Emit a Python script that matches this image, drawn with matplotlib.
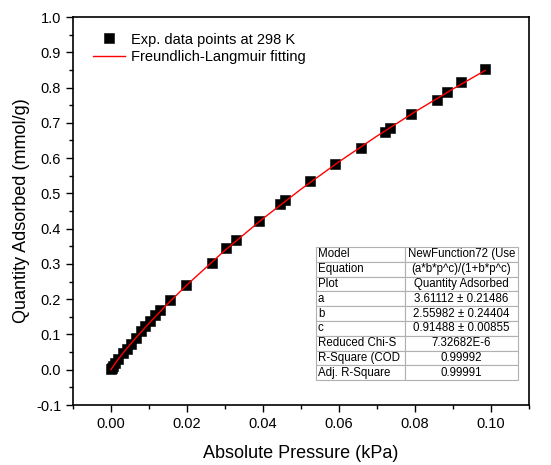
import matplotlib
matplotlib.use("Agg")
import matplotlib.pyplot as plt
from matplotlib.ticker import MultipleLocator, FormatStrFormatter

plt.rcParams['font.family'] = ['Liberation Sans', 'DejaVu Sans']

p_exp = [0.0001, 0.0002, 0.0005, 0.0010, 0.0019, 0.0032, 0.0043, 0.0053, 0.0066,
         0.0080, 0.0090, 0.0102, 0.0117, 0.0128, 0.0155, 0.0197, 0.0265, 0.0303,
         0.0330, 0.0390, 0.0446, 0.0457, 0.0523, 0.0590, 0.0657, 0.0722, 0.0735,
         0.0790, 0.0858, 0.0885, 0.0920, 0.0985]
q_exp = [0.002, 0.005, 0.010, 0.018, 0.030, 0.047, 0.060, 0.073, 0.090,
         0.111, 0.125, 0.138, 0.155, 0.168, 0.198, 0.240, 0.303, 0.344,
         0.369, 0.423, 0.470, 0.481, 0.534, 0.582, 0.629, 0.675, 0.686,
         0.726, 0.766, 0.787, 0.815, 0.852]

# Fitting curve
p_fit = [0.0, 0.0001, 0.0002, 0.0005, 0.001, 0.002, 0.004, 0.006, 0.010, 0.015,
         0.020, 0.030, 0.040, 0.050, 0.060, 0.070, 0.080, 0.090, 0.0985]
q_fit = [0.0, 0.0020, 0.0038, 0.0088, 0.0166, 0.0311, 0.0582, 0.0837, 0.1318, 0.1879,
         0.2407, 0.3387, 0.4286, 0.5119, 0.5897, 0.6625, 0.7312, 0.7961, 0.8487]

table_rows = [
    ["Model", "NewFunction72 (Use"],
    ["Equation", "(a*b*p^c)/(1+b*p^c)"],
    ["Plot", "Quantity Adsorbed"],
    ["a", "3.61112 \u00b1 0.21486"],
    ["b", "2.55982 \u00b1 0.24404"],
    ["c", "0.91488 \u00b1 0.00855"],
    ["Reduced Chi-S", "7.32682E-6"],
    ["R-Square (COD", "0.99992"],
    ["Adj. R-Square", "0.99991"],
]

fig = plt.figure(figsize=(5.51, 4.65), dpi=100)
ax = fig.add_axes([0.1325, 0.129, 0.8275, 0.8344])

ax.plot(p_exp, q_exp, linestyle='none', marker='s', markersize=7.0, markeredgewidth=0.4,
        color='black', label='Exp. data points at 298 K', zorder=2)
ax.plot(p_fit, q_fit, color='red', linewidth=1.0, label='Freundlich-Langmuir fitting', zorder=3)

ax.set_xlim(-0.01, 0.11)
ax.set_ylim(-0.1, 1.0)
ax.xaxis.set_major_locator(MultipleLocator(0.02))
ax.xaxis.set_minor_locator(MultipleLocator(0.01))
ax.yaxis.set_major_locator(MultipleLocator(0.1))
ax.yaxis.set_minor_locator(MultipleLocator(0.05))
ax.xaxis.set_major_formatter(FormatStrFormatter('%.2f'))
ax.yaxis.set_major_formatter(FormatStrFormatter('%.1f'))
ax.tick_params(which='major', direction='out', length=5, width=1, labelsize=10.5)
ax.tick_params(which='minor', direction='out', length=3, width=1)
for s in ax.spines.values():
    s.set_linewidth(1.2)

ax.set_xlabel('Absolute Pressure (kPa)', fontsize=13, labelpad=10)
ax.set_ylabel('Quantity Adsorbed (mmol/g)', fontsize=13, labelpad=4)

leg = ax.legend(loc='upper left', bbox_to_anchor=(0.005, 1.005), frameon=False,
                fontsize=10.5, handlelength=2.2, handletextpad=0.45,
                borderaxespad=0.8, labelspacing=0.25)

tbl = ax.table(cellText=table_rows, cellLoc='center',
               bbox=[0.533, 0.064, 0.443, 0.343], colWidths=[0.44, 0.56])
tbl.auto_set_font_size(False)
tbl.set_fontsize(8.3)
for (r, c), cell in tbl.get_celld().items():
    cell.set_edgecolor('#b0b0b0')
    cell.set_linewidth(0.8)
    cell.set_facecolor('white')
    if c == 0:
        cell.set_text_props(ha='left')
        cell.PAD = 0.02
tbl.set_zorder(5)

fig.savefig('out.png', dpi=100)
